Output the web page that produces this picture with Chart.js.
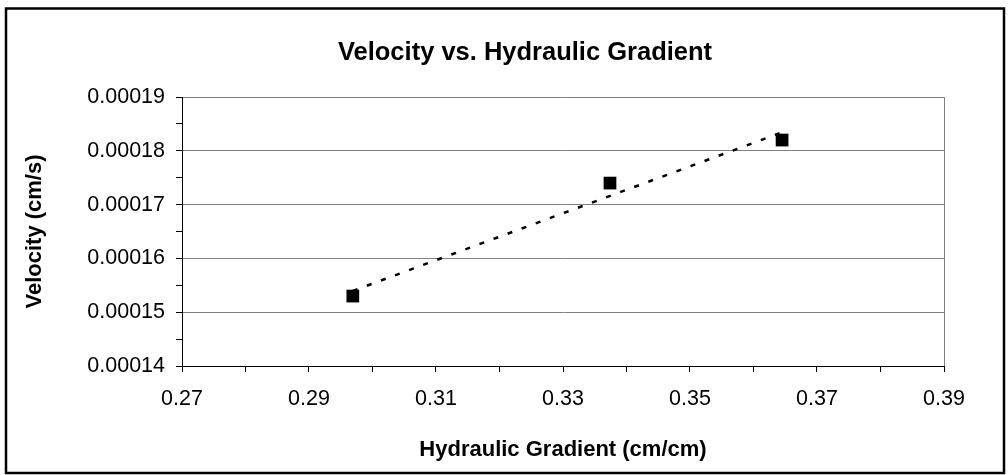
<!DOCTYPE html>
<html>
<head>
<meta charset="utf-8">
<title>Velocity vs. Hydraulic Gradient</title>
<script src="https://cdn.jsdelivr.net/npm/chart.js@4"></script>
<style>
  html, body { margin: 0; padding: 0; background: #fff; }
  canvas { display: block; }
</style>
</head>
<body>
<canvas id="myChart" width="1008" height="475"></canvas>
<script>
// measured points
var gradient = [0.2969, 0.3374, 0.3645];      // cm/cm
var velocity = [0.000153, 0.000174, 0.000182]; // cm/s

var xTicks = [0.27, 0.29, 0.31, 0.33, 0.35, 0.37, 0.39];
var yTicks = [0.00014, 0.00015, 0.00016, 0.00017, 0.00018, 0.00019];

var FONT = "'Liberation Sans', Arial, sans-serif";

// least squares trend line through the measured points
function linearFit(xs, ys) {
    var n = xs.length, sx = 0, sy = 0, sxy = 0, sxx = 0;
    for (var i = 0; i < n; i++) {
        sx += xs[i]; sy += ys[i];
        sxy += xs[i] * ys[i]; sxx += xs[i] * xs[i];
    }
    var slope = (n * sxy - sx * sy) / (n * sxx - sx * sx);
    var intercept = (sy - slope * sx) / n;
    return function (x) { return intercept + slope * x; };
}

var fit = linearFit(gradient, velocity);
var xMin = Math.min.apply(null, gradient);
var xMax = Math.max.apply(null, gradient);

var points = gradient.map(function (g, i) { return { x: g, y: velocity[i] }; });
var trend = [{ x: xMin, y: fit(xMin) }, { x: xMax, y: fit(xMax) }];

function isLabelled(list, v) {
    return list.some(function (t) { return Math.abs(t - v) < 1e-9; });
}

// chart title and outer frame
var frame = {
    id: 'frame',
    afterDraw: function (chart) {
        var c = chart.ctx;
        c.save();
        c.strokeStyle = '#000';
        c.lineWidth = 2.5;
        c.strokeRect(6, 8.5, 998, 464.5);
        c.fillStyle = '#000';
        c.font = 'bold 25.5px ' + FONT;
        c.textAlign = 'center';
        c.textBaseline = 'middle';
        c.fillText('Velocity vs. Hydraulic Gradient', 525, 53);
        c.restore();
    }
};

var ctx = document.getElementById('myChart').getContext('2d');

var myChart = new Chart(ctx, {
    type: 'scatter',
    data: {
        datasets: [
            {
                label: 'Velocity',
                data: points,
                pointStyle: 'rect',
                pointRadius: 9,
                pointBackgroundColor: '#000',
                pointBorderWidth: 0,
                showLine: false,
                order: 0
            },
            {
                label: 'Linear trend',
                type: 'line',
                data: trend,
                borderColor: '#000',
                borderWidth: 2.5,
                borderDash: [5, 10],
                pointRadius: 0,
                fill: false,
                order: 1
            }
        ]
    },
    options: {
        responsive: false,
        animation: false,
        devicePixelRatio: 1,
        layout: { padding: { top: 97, right: 64, bottom: 0, left: 0 } },
        plugins: {
            legend: { display: false },
            tooltip: { enabled: false },
            title: { display: false }
        },
        scales: {
            x: {
                type: 'linear',
                min: 0.27,
                max: 0.39,
                afterFit: function (scale) { scale.height = 109; },
                ticks: {
                    stepSize: 0.01,
                    autoSkip: false,
                    maxTicksLimit: 20,
                    maxRotation: 0,
                    padding: 14,
                    color: '#000',
                    font: { family: FONT, size: 21.5 },
                    callback: function (v) { return isLabelled(xTicks, v) ? v.toFixed(2) : ''; }
                },
                grid: {
                    tickLength: 6,
                    tickColor: '#000',
                    color: function (c) {
                        return c.tick && Math.abs(c.tick.value - 0.39) < 1e-9 ? '#808080' : 'rgba(0,0,0,0)';
                    }
                },
                border: { color: '#000', width: 1 },
                title: {
                    display: true,
                    text: 'Hydraulic Gradient (cm/cm)',
                    color: '#000',
                    font: { family: FONT, size: 22, weight: 'bold' },
                    padding: { top: 0, bottom: 12 }
                }
            },
            y: {
                min: 0.00014,
                max: 0.00019,
                afterFit: function (scale) { scale.width = 182; },
                ticks: {
                    stepSize: 0.000005,
                    autoSkip: false,
                    padding: 11,
                    color: '#000',
                    font: { family: FONT, size: 21.5 },
                    callback: function (v) { return isLabelled(yTicks, v) ? v.toFixed(5) : ''; }
                },
                grid: {
                    tickLength: 6,
                    tickColor: '#000',
                    color: function (c) {
                        return c.tick && isLabelled(yTicks, c.tick.value) ? '#808080' : 'rgba(0,0,0,0)';
                    }
                },
                border: { color: '#000', width: 1 },
                title: {
                    display: true,
                    text: 'Velocity (cm/s)',
                    color: '#000',
                    font: { family: FONT, size: 22, weight: 'bold' },
                    padding: { top: 22, bottom: 0 }
                }
            }
        }
    },
    plugins: [frame]
});
</script>
</body>
</html>
